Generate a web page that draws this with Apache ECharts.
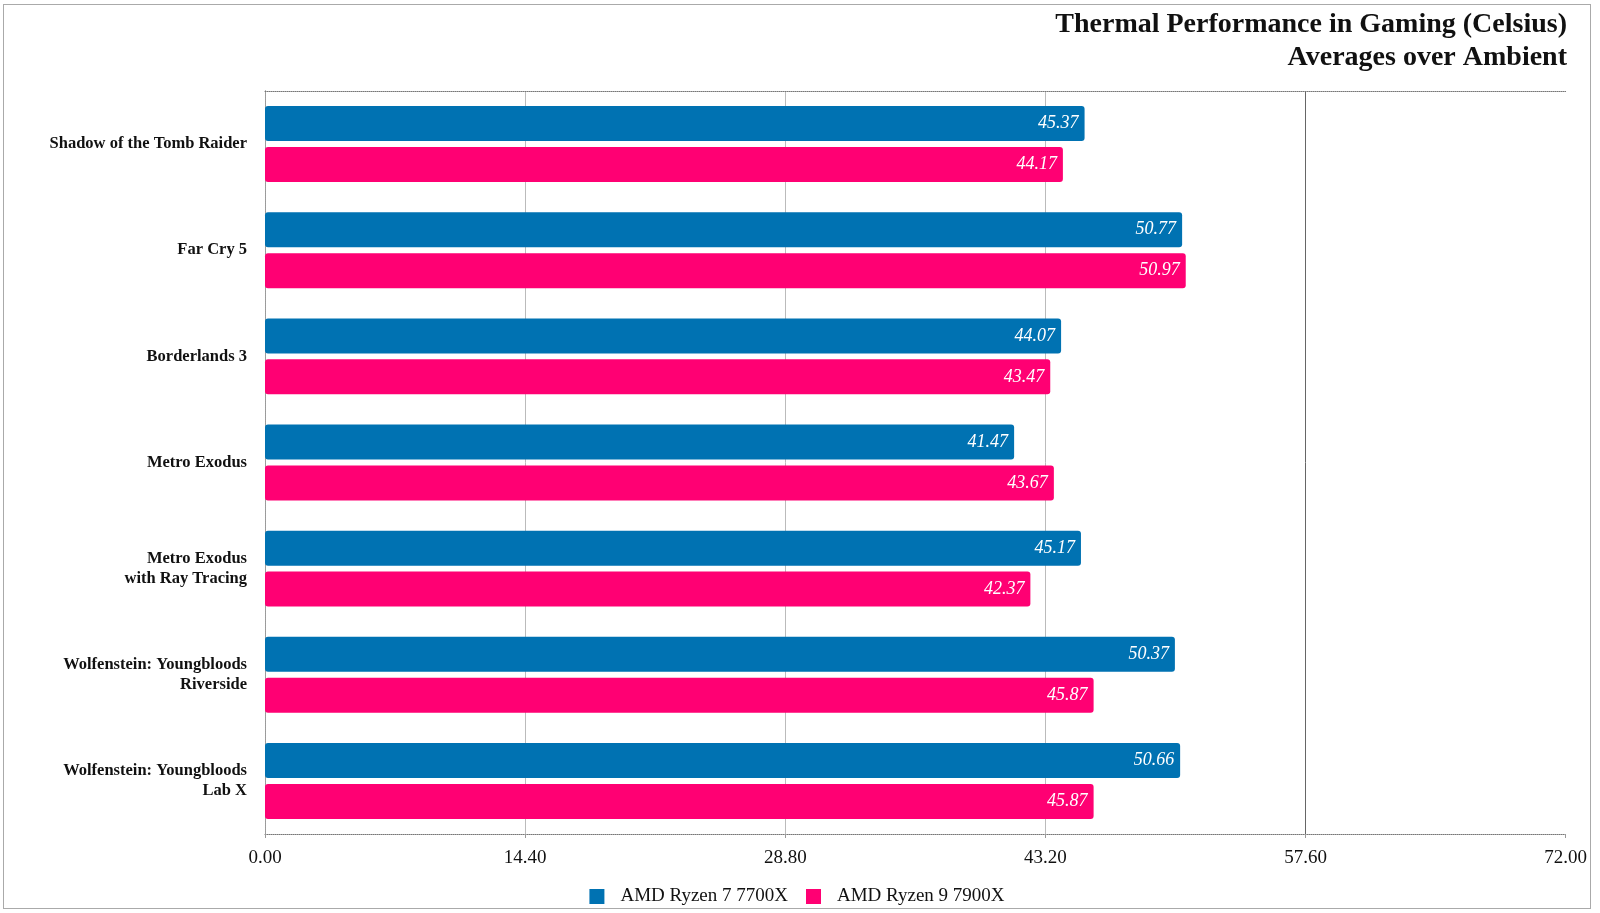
<!DOCTYPE html>
<html>
<head>
<meta charset="utf-8">
<script src="https://cdn.jsdelivr.net/npm/echarts@6/dist/echarts.min.js"></script>
<style>
html,body{margin:0;padding:0;background:#fff;overflow:hidden;}
#frame{position:absolute;left:3px;top:4px;width:1586px;height:903px;border:1px solid #aaa;}
#chart{width:1586px;height:903px;}
</style>
</head>
<body>
<div id="frame"><div id="chart"></div></div>
<script>
const categories = [
  'Shadow of the Tomb Raider',
  'Far Cry 5',
  'Borderlands 3',
  'Metro Exodus',
  'Metro Exodus\nwith Ray Tracing',
  'Wolfenstein: Youngbloods\nRiverside',
  'Wolfenstein: Youngbloods\nLab X'
];
const ryzen7700X = [45.37, 50.77, 44.07, 41.47, 45.17, 50.37, 50.66];
const ryzen7900X = [44.17, 50.97, 43.47, 43.67, 42.37, 45.87, 45.87];
const seriesNames = ['AMD Ryzen 7 7700X', 'AMD Ryzen 9 7900X'];
const xTicks = [0, 14.4, 28.8, 43.2, 57.6, 72];
const titleLines = ['Thermal Performance in Gaming (Celsius)', 'Averages over Ambient'];

const FONT = 'Liberation Serif';
const chart = echarts.init(document.getElementById('chart'));
const labelCfg = {
  show: true, position: 'insideRight', offset: [-1, 0],
  color: '#fff', fontFamily: FONT, fontStyle: 'italic', fontSize: 18,
  formatter: p => p.value.toFixed(2)
};
const titleStyle = { fontFamily: FONT, fontWeight: 'bold', fontSize: 28, lineHeight: 31, color: '#111' };
chart.setOption({
  animation: false,
  title: [
    { text: titleLines[0], right: 23, top: 4, padding: 0, textStyle: titleStyle },
    { text: titleLines[1], right: 23, top: 37, padding: 0, textStyle: titleStyle }
  ],
  legend: {
    top: 882, left: 'center', padding: 0,
    itemWidth: 15, itemHeight: 15, itemGap: 18,
    icon: 'rect',
    textStyle: { fontFamily: FONT, fontSize: 19, color: '#111', padding: [0, 0, 0, 11] },
    data: seriesNames
  },
  grid: { left: 261, right: 16, top: 86, bottom: 74, containLabel: false },
  xAxis: [{
    type: 'value', min: xTicks[0], max: xTicks[xTicks.length - 1], interval: 14.4,
    axisLine: { show: true, lineStyle: { color: '#777', type: 'dotted', width: 1 } },
    axisTick: { show: true, length: 4, lineStyle: { color: '#999' } },
    axisLabel: { fontFamily: FONT, fontSize: 19, color: '#111', margin: 15, formatter: v => v.toFixed(2) },
    splitLine: { show: true, lineStyle: { color: ['transparent', '#bbb', '#bbb', '#bbb', '#666', 'transparent'], width: 1 } }
  }, {
    type: 'value', position: 'top', min: 0, max: 72, interval: 14.4,
    axisLine: { show: true, lineStyle: { color: '#777', type: 'dotted', width: 1 } },
    axisTick: { show: false }, axisLabel: { show: false }, splitLine: { show: false }
  }],
  yAxis: [{
    type: 'category', data: categories, inverse: true,
    axisLine: { show: true, lineStyle: { color: '#777', type: 'dotted', width: 1 } },
    axisTick: { show: false },
    axisLabel: { fontFamily: FONT, fontWeight: 'bold', fontSize: 16.5, color: '#111', margin: 18, lineHeight: 20, align: 'right' }
  }, {
    type: 'category', data: categories, inverse: true, position: 'right',
    axisLine: { show: true, lineStyle: { color: '#999', type: 'dotted', width: 1 } },
    axisTick: { show: false }, axisLabel: { show: false }
  }],
  series: [{
    name: seriesNames[0], type: 'bar', data: ryzen7700X,
    barWidth: 35, barGap: '17%',
    itemStyle: { color: '#0072b2', borderRadius: 3 },
    label: labelCfg
  }, {
    name: seriesNames[1], type: 'bar', data: ryzen7900X,
    barWidth: 35, barGap: '17%',
    itemStyle: { color: '#ff0073', borderRadius: 3 },
    label: labelCfg
  }]
});
</script>
</body>
</html>
